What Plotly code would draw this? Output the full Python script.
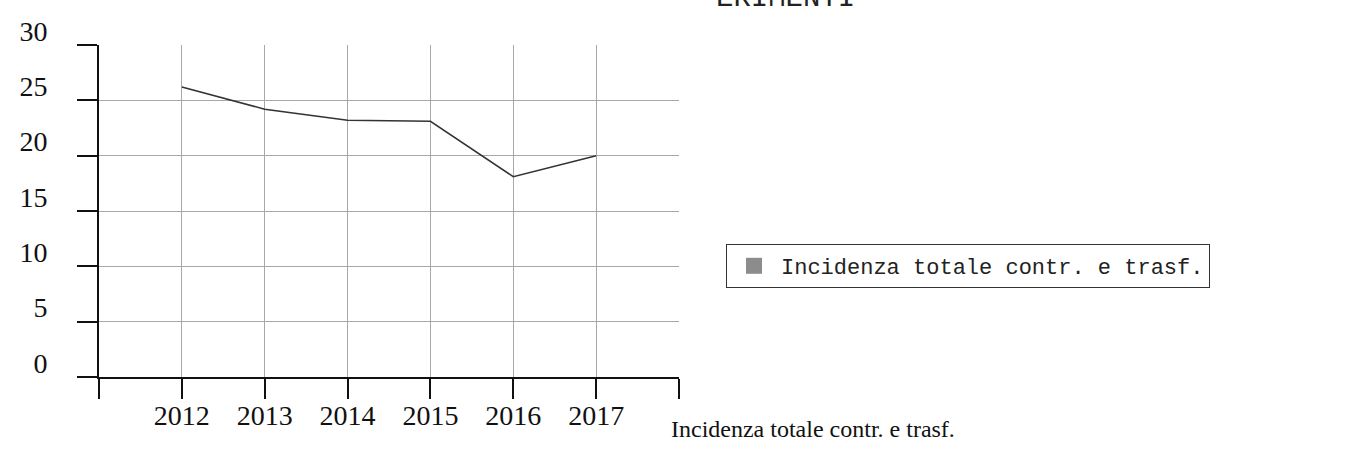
import plotly.graph_objects as go

years = [2012, 2013, 2014, 2015, 2016, 2017]
incidenza = [26.2, 24.2, 23.2, 23.1, 18.1, 20.0]
series_name = "Incidenza totale contr. e trasf."
x_tickvals = [2011, 2012, 2013, 2014, 2015, 2016, 2017, 2018]
x_ticktext = ["", "2012", "2013", "2014", "2015", "2016", "2017", ""]
y_tickvals = [0, 5, 10, 15, 20, 25, 30]

W, H = 1367, 473
L, R, T, B = 99, 679, 45, 377

def px_to_paper(px, py):
    return (px - L) / (R - L), (B - py) / (B - T)

fig = go.Figure()
fig.add_trace(go.Scatter(
    x=years, y=incidenza, mode="lines", name=series_name,
    line=dict(color="#333333", width=1.5), showlegend=False,
))
fig.add_trace(go.Scatter(
    x=[None], y=[None], mode="markers", name=series_name,
    marker=dict(symbol="square", size=22, color="#8c8c8c"),
    showlegend=True,
))

serif = "Liberation Serif"
hx, hy = px_to_paper(714, 0)
fig.update_layout(
    width=W, height=H,
    margin=dict(l=L, r=W - R, t=T, b=H - B, autoexpand=False),
    paper_bgcolor="white", plot_bgcolor="white",
    showlegend=True,
    legend=dict(
        xref="container", yref="container",
        x=726 / W, y=1 - 244 / H, xanchor="left", yanchor="top",
        bordercolor="#333333", borderwidth=1, bgcolor="white",
        font=dict(family="Liberation Mono", size=22, color="#222222"),
        itemwidth=44,
    ),
    xaxis=dict(
        range=[2011, 2018], tickmode="array", tickvals=x_tickvals,
        ticktext=x_ticktext, showgrid=True, gridcolor="#a8a8a8", gridwidth=1,
        showline=True, linecolor="#111111", linewidth=2,
        ticks="outside", ticklen=20, tickwidth=2, tickcolor="#111111",
        tickfont=dict(family=serif, size=28, color="#111111"),
        ticklabelstandoff=-8, automargin=False,
        zeroline=False,
    ),
    yaxis=dict(
        range=[0, 30], tickmode="array", tickvals=y_tickvals,
        showgrid=True, gridcolor="#a8a8a8", gridwidth=1,
        showline=True, linecolor="#111111", linewidth=2,
        ticks="outside", ticklen=20, tickwidth=2, tickcolor="#111111",
        tickfont=dict(family=serif, size=28, color="#111111"),
        ticklabelstandoff=24, ticklabelshift=-14, automargin=False,
        zeroline=False,
    ),
    annotations=[
        dict(text=series_name, xref="paper", yref="paper",
             x=1.0, y=0, xanchor="left", yanchor="middle", yshift=-52, xshift=-10,
             showarrow=False, font=dict(family=serif, size=24, color="#111111")),
        dict(text="ERIMENTI", xref="paper", yref="paper",
             x=hx, y=hy, xanchor="left", yanchor="middle", yshift=2,
             showarrow=False, font=dict(family="Liberation Mono", size=29, color="#222222")),
    ],
)

fig.write_html("out.html", config={"displayModeBar": False},
               post_script="document.body.style.margin='0';")
